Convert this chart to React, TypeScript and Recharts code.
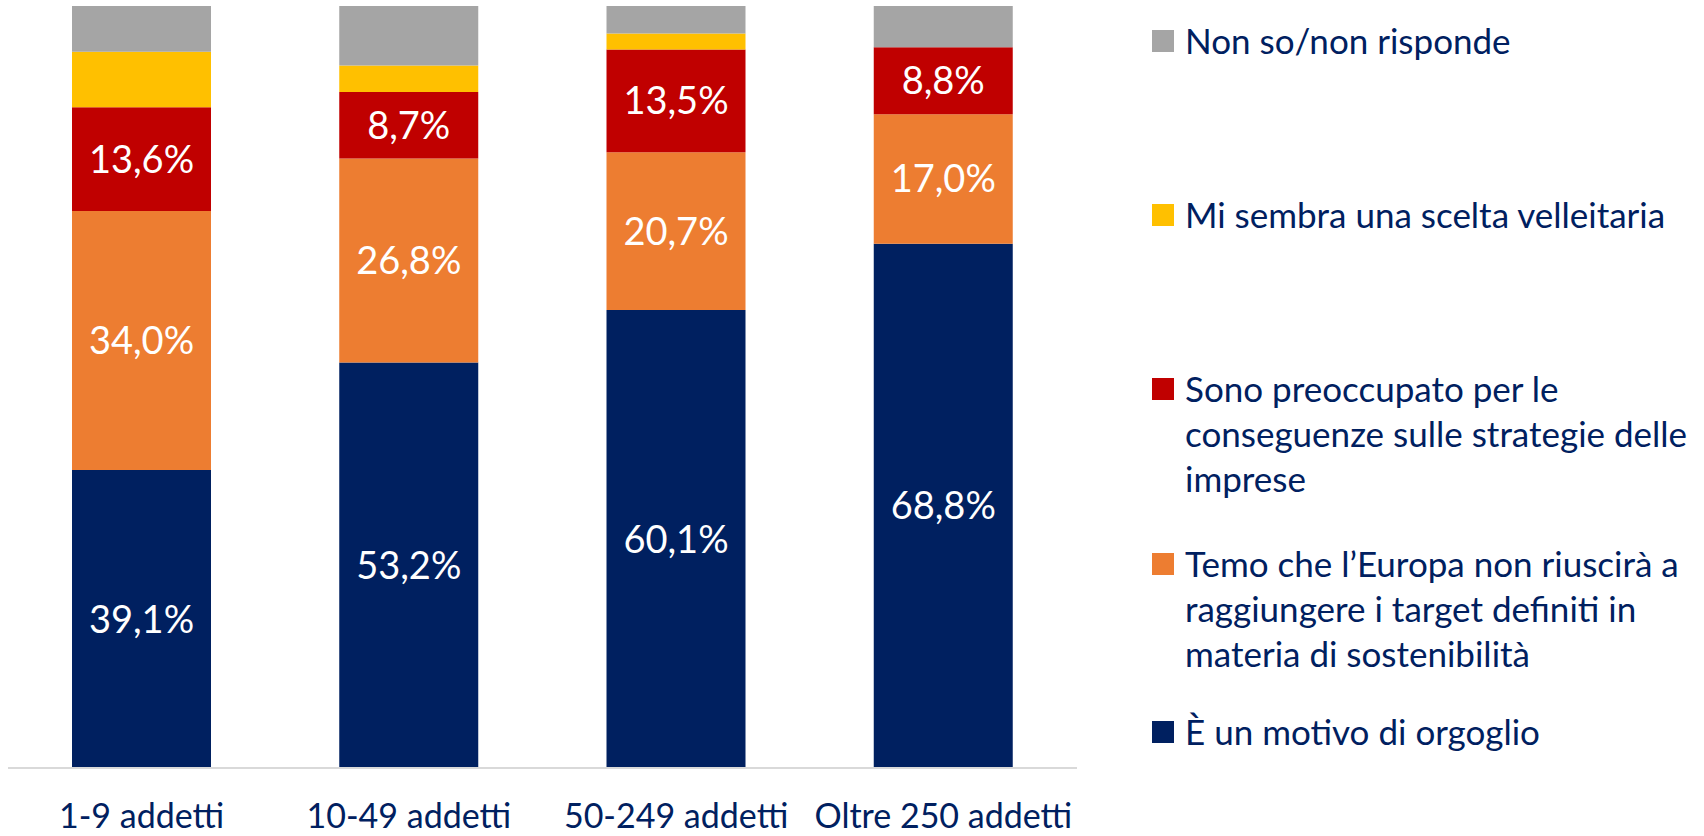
import React from 'react';
import { BarChart, Bar, XAxis, YAxis, LabelList } from 'recharts';

const categories = ['1-9 addetti', '10-49 addetti', '50-249 addetti', 'Oltre 250 addetti'];
const orgoglio = [39.1, 53.2, 60.1, 68.8];
const temo = [34.0, 26.8, 20.7, 17.0];
const preoccupato = [13.6, 8.7, 13.5, 8.8];
const velleitaria = [7.3, 3.5, 2.1, 0];
const nonSo = [6.0, 7.8, 3.6, 5.4];

const seriesNames = [
  'È un motivo di orgoglio',
  'Temo che l\u2019Europa non riuscirà a\nraggiungere i target definiti in\nmateria di sostenibilità',
  'Sono preoccupato per le\nconseguenze sulle strategie delle\nimprese',
  'Mi sembra una scelta velleitaria',
  'Non so/non risponde',
];
const seriesKeys = ['orgoglio', 'temo', 'preoccupato', 'velleitaria', 'nonSo'];
const seriesColors = ['#002060', '#ED7D31', '#C00000', '#FFC000', '#A5A5A5'];
const labelled = [true, true, true, false, false];

const data = categories.map((c, i) => ({
  name: c,
  orgoglio: orgoglio[i],
  temo: temo[i],
  preoccupato: preoccupato[i],
  velleitaria: velleitaria[i],
  nonSo: nonSo[i],
}));

const FONT = 'Lato, "Noto Sans", sans-serif';
const NAVY = '#002060';

// top offsets (gaps) for legend items, top to bottom
const legendGaps = [18, 129, 129, 40, 33];

const fmt = (v: any) => (typeof v === 'number' && v > 0 ? v.toFixed(1).replace('.', ',') + '%' : '');

const LegendContent = () => {
  const order = [4, 3, 2, 1, 0];
  return (
    <div style={{ fontFamily: FONT, fontSize: 35, color: NAVY, lineHeight: '45px' }}>
      {order.map((idx, k) => (
        <div key={seriesKeys[idx]} style={{ display: 'flex', alignItems: 'flex-start', marginTop: legendGaps[k] }}>
          <div
            style={{
              width: 22,
              height: 22,
              background: seriesColors[idx],
              marginTop: 11.5,
              marginLeft: 12,
              marginRight: 11,
              flexShrink: 0,
            }}
          />
          <div style={{ whiteSpace: 'pre-line' }}>{seriesNames[idx]}</div>
        </div>
      ))}
    </div>
  );
};

export default function App() {
  return (
    <div style={{ position: 'absolute', left: 0, top: 0, width: 1704, height: 836, background: '#fff' }}>
      <BarChart
        width={1704}
        height={836}
        data={data}
        margin={{ top: 6, right: 627, bottom: 0, left: 8 }}
        barSize={139}
      >
        <XAxis
          dataKey="name"
          height={68}
          tickLine={false}
          tickMargin={30}
          axisLine={{ stroke: '#D9D9D9', strokeWidth: 2 }}
          tick={{ fill: NAVY, fontSize: 34, fontFamily: FONT }}
          interval={0}
        />
        <YAxis hide domain={[0, 100]} />
        {seriesKeys.map((k, i) => (
          <Bar key={k} dataKey={k} name={seriesNames[i]} stackId="a" fill={seriesColors[i]} isAnimationActive={false}>
            {labelled[i] && (
              <LabelList
                dataKey={k}
                position="center"
                formatter={fmt}
                fill="#FFFFFF"
                style={{ fontSize: 38, fontFamily: FONT, fill: '#FFFFFF' }}
              />
            )}
          </Bar>
        ))}
      </BarChart>
      <div style={{ position: 'absolute', left: 1140, top: 0, width: 564, height: 836 }}>
        <LegendContent />
      </div>
    </div>
  );
}
